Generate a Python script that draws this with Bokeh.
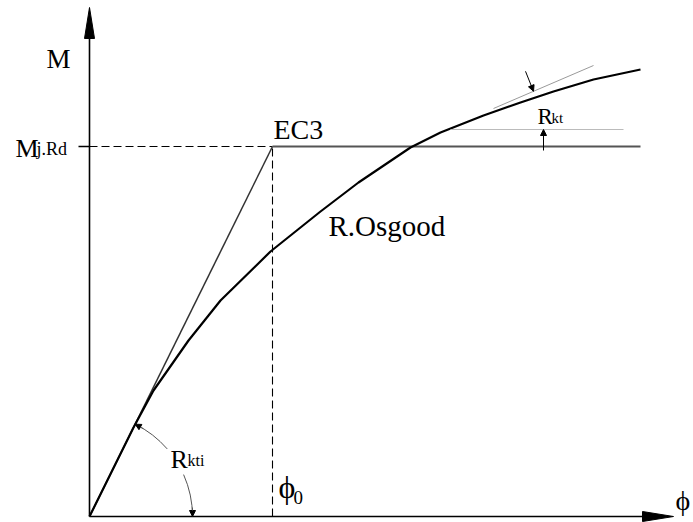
import math

from bokeh.embed import file_html
from bokeh.models import Arrow, Label, NormalHead, Range1d
from bokeh.plotting import figure
from bokeh.resources import INLINE

# --- diagram values (rotation phi on x, moment M on y) ---
Mj_Rd = 370          # design moment resistance
phi0 = 183           # rotation where the EC3 bilinear model reaches Mj.Rd
phi_ec3_end = 551    # end of the plastic branch

# Ramberg-Osgood moment-rotation curve
phi_ro = [0, 44, 64, 99, 131, 181, 231, 269, 321, 351, 394, 431, 464, 504, 551]
M_ro = [0, 89, 126, 176, 216, 265, 305, 334, 369, 384, 401, 414, 425, 437, 447]

# EC3 bilinear model
phi_ec3 = [0, phi0, phi_ec3_end]
M_ec3 = [0, Mj_Rd, Mj_Rd]

# tangent stiffness at large rotation (Rkt) and its reference level
phi_tan = [404, 504]
M_tan = [408, 451]
phi_ref = [361, 534]
M_ref = [387, 387]

# axis extents
phi_max = 584
M_max = 509

FONT = "Liberation Serif"

p = figure(width=693, height=522, output_backend="svg", toolbar_location=None,
           x_range=Range1d(-89, 604), y_range=Range1d(-6, 516),
           x_axis_location=None, y_axis_location=None, min_border=0)
p.grid.visible = False
p.outline_line_color = None
p.background_fill_color = "white"
p.border_fill_color = "white"

# axes with arrowheads
p.line([0, phi_max - 20], [0, 0], line_color="black", line_width=1.6)
p.line([0, 0], [0, M_max - 20], line_color="black", line_width=1.6)
p.patch([phi_max - 31, phi_max, phi_max - 31], [5, 0, -5], fill_color="black", line_color="black")
p.patch([-5, 0, 5], [M_max - 31, M_max, M_max - 31], fill_color="black", line_color="black")

# guide lines to Mj.Rd and phi0
p.line([-11, 0], [Mj_Rd, Mj_Rd], line_color="black", line_width=1.4)
p.line([0, phi0], [Mj_Rd, Mj_Rd], line_color="black", line_width=1.1, line_dash="8 4")
p.line([phi0, phi0], [0, Mj_Rd], line_color="black", line_width=1.1, line_dash="8 4")

# EC3 model
p.line(phi_ec3[:2], M_ec3[:2], line_color="#333333", line_width=1.5)
p.line(phi_ec3[1:], M_ec3[1:], line_color="#555555", line_width=2.2)

# Ramberg-Osgood curve
p.line(phi_ro, M_ro, line_color="black", line_width=2.2, line_join="round")

# Rkt construction
p.line(phi_tan, M_tan, line_color="#9a9a9a", line_width=1)
p.line(phi_ref, M_ref, line_color="#bbbbbb", line_width=1)
p.add_layout(Arrow(end=NormalHead(size=6, fill_color="black", line_color="black"),
                   x_start=454, y_start=Mj_Rd - 4, x_end=454, y_end=M_ref[0],
                   line_color="black", line_width=1))
t = (444 - phi_tan[0]) / (phi_tan[1] - phi_tan[0])
m_on_tan = M_tan[0] + t * (M_tan[1] - M_tan[0])
p.add_layout(Arrow(end=NormalHead(size=6, fill_color="black", line_color="black"),
                   x_start=436, y_start=m_on_tan + 20, x_end=444, y_end=m_on_tan,
                   line_color="black", line_width=1))

# Rkti arc around the origin
r = 103
a_top = math.atan2(M_ec3[1], phi_ec3[1])
p.arc(x=[0], y=[0], radius=r, start_angle=math.radians(41), end_angle=a_top,
      line_color="#555555", line_width=1)
p.arc(x=[0], y=[0], radius=r, start_angle=0.0, end_angle=math.radians(24),
      line_color="#555555", line_width=1)
tip = (r * math.cos(a_top), r * math.sin(a_top))
back = (r * math.cos(a_top - 0.09), r * math.sin(a_top - 0.09))
p.add_layout(Arrow(end=NormalHead(size=6, fill_color="black", line_color="black"),
                   x_start=back[0], y_start=back[1], x_end=tip[0], y_end=tip[1],
                   line_color="#555555", line_width=1))
p.add_layout(Arrow(end=NormalHead(size=6, fill_color="black", line_color="black"),
                   x_start=r, y_start=9, x_end=r, y_end=0,
                   line_color="#555555", line_width=1))


def label(x, y, text, size):
    p.add_layout(Label(x=x, y=y, text=text, text_font=FONT, text_font_size=f"{size}px",
                       text_color="black", text_align="left", text_baseline="alphabetic"))


label(-43, 458, "M", 27)
label(-74, 368, "M", 26)
label(-53, 368, "j.Rd", 18)
label(184, 387, "EC3", 28)
label(239, 291, "R.Osgood", 29)
label(448, 400, "R", 23)
label(462, 399, "kt", 15)
label(81, 57, "R", 26)
label(98, 56, "kti", 16)
label(189, 30, "\u03d5", 32)
label(204, 19, "0", 19)
label(586, 16, "\u03d5", 28)

open("out.html", "w").write(file_html(p, INLINE))
